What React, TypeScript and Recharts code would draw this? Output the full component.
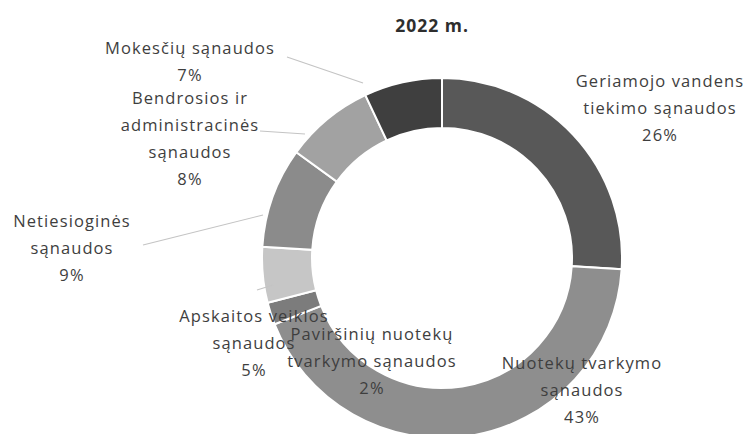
import React from "react";
import { PieChart, Pie, Cell } from "recharts";

// 2022 m. sąnaudų struktūra
const categories = [
  "Geriamojo vandens tiekimo sąnaudos",
  "Nuotekų tvarkymo sąnaudos",
  "Paviršinių nuotekų tvarkymo sąnaudos",
  "Apskaitos veiklos sąnaudos",
  "Netiesioginės sąnaudos",
  "Bendrosios ir administracinės sąnaudos",
  "Mokesčių sąnaudos",
];
const shares = [26, 43, 2, 5, 9, 8, 7];
const labelText = [
  ["Geriamojo vandens", "tiekimo sąnaudos"],
  ["Nuotekų tvarkymo", "sąnaudos"],
  ["Paviršinių nuotekų", "tvarkymo sąnaudos"],
  ["Apskaitos veiklos", "sąnaudos"],
  ["Netiesioginės", "sąnaudos"],
  ["Bendrosios ir", "administracinės", "sąnaudos"],
  ["Mokesčių sąnaudos"],
];

const COLORS = ["#585858", "#8e8e8e", "#7c7c7c", "#c6c6c6", "#8b8b8b", "#a2a2a2", "#3f3f3f"];

// label placement relative to the pie centre: text block (x, first line y), optional leader line
const LABEL_LAYOUT = [
  { dx: 223, dy: -173 },
  { dx: 145, dy: 109 },
  { dx: -65, dy: 80 },
  { dx: -183, dy: 62, line: [-180, 37, -164, 32] },
  { dx: -365, dy: -33, line: [-294, -8, -174, -38] },
  { dx: -247, dy: -156, line: [-177, -122, -132, -119] },
  { dx: -247, dy: -206, line: [-150, -196, -74, -170] },
];

const data = categories.map((name, i) => ({ name, value: shares[i] }));

const OFFSET = 8; // body margin
const CX = 437 - OFFSET;
const CY = 253 - OFFSET;
const LINE_H = 27;
const FONT = "'Open Sans', 'Noto Sans', sans-serif";

const renderLabel = (props: any) => {
  const { index, value } = props;
  const lay = LABEL_LAYOUT[index];
  const x = CX + lay.dx;
  const y0 = CY + lay.dy;
  const lines = [...labelText[index], `${value}%`];
  return (
    <g key={`lbl-${index}`}>
      {lay.line && (
        <line
          x1={CX + lay.line[0]}
          y1={CY + lay.line[1]}
          x2={CX + lay.line[2]}
          y2={CY + lay.line[3]}
          stroke="#c4c4c4"
          strokeWidth={1.2}
        />
      )}
      <text
        x={x}
        y={y0}
        textAnchor="middle"
        dominantBaseline="central"
        fill="#3e3e3e"
        fontSize={16.5}
        fontWeight={500}
        letterSpacing={1.1}
        fontFamily={FONT}
      >
        {lines.map((t, k) => (
          <tspan key={k} x={x} y={y0 + k * LINE_H}>
            {t}
          </tspan>
        ))}
      </text>
    </g>
  );
};

export default function App() {
  return (
    <PieChart width={745} height={426}>
      <text
        x={432 - OFFSET}
        y={25 - OFFSET}
        textAnchor="middle"
        dominantBaseline="central"
        fontSize={17.5}
        fontWeight="bold"
        letterSpacing={1}
        fill="#2e2e2e"
        fontFamily={FONT}
      >
        2022 m.
      </text>
      <Pie
        data={data}
        dataKey="value"
        nameKey="name"
        cx={CX}
        cy={CY}
        innerRadius={130}
        outerRadius={180}
        startAngle={90}
        endAngle={-270}
        stroke="#ffffff"
        strokeWidth={2}
        label={renderLabel}
        labelLine={false}
        isAnimationActive={false}
      >
        {data.map((entry, index) => (
          <Cell key={`cell-${index}`} fill={COLORS[index]} />
        ))}
      </Pie>
    </PieChart>
  );
}
